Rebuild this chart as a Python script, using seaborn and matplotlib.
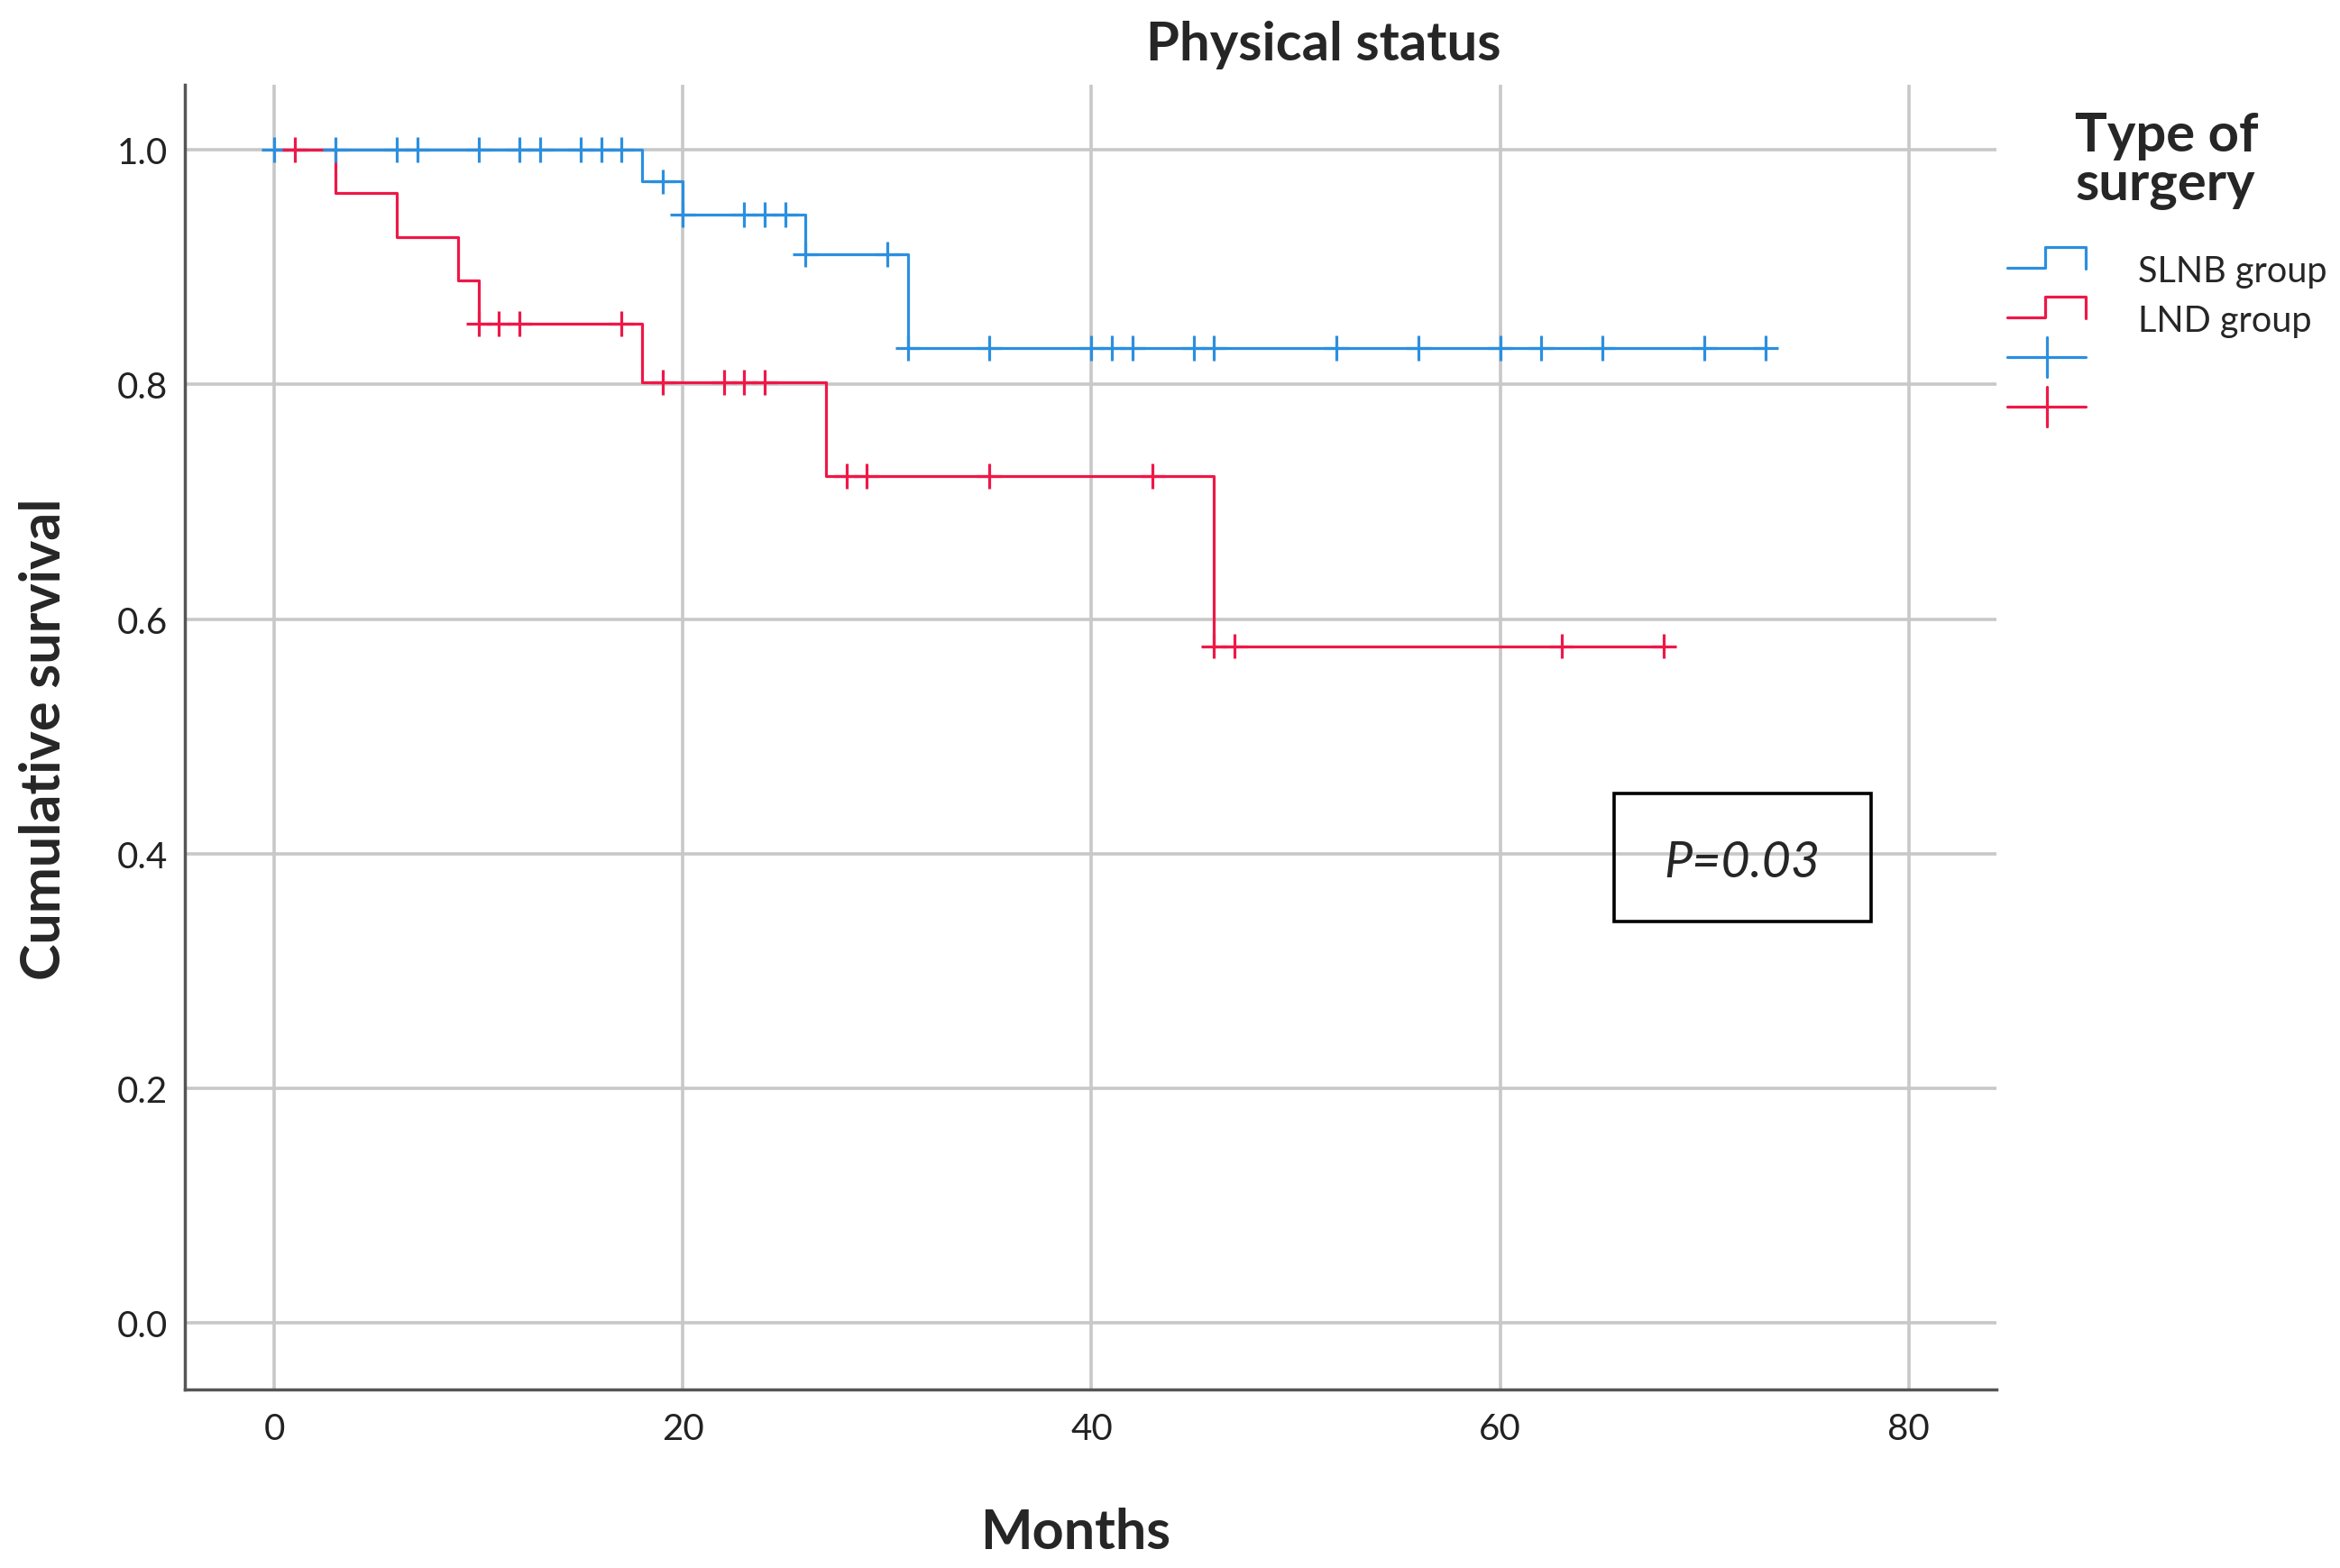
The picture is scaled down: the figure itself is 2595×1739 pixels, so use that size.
import numpy as np
import pandas as pd
import matplotlib
matplotlib.use("Agg")
import matplotlib.pyplot as plt
import seaborn as sns
from matplotlib.lines import Line2D
from matplotlib.patches import Rectangle
from matplotlib.legend_handler import HandlerBase

# groups and colours
groups = ["SLNB group", "LND group"]
colors = ["#2B8FE0", "#EE1848"]

# Kaplan-Meier steps: time of each step and survival after it
# (last entry = end of follow-up)
slnb_times = [0, 18, 20, 26, 31, 73]
slnb_surv = [1.0, 0.973, 0.945, 0.911, 0.831, 0.831]
slnb_censored = [0, 3, 6, 7, 10, 12, 13, 15, 16, 17, 19, 20, 23, 24, 25, 26, 30,
                 31, 35, 40, 41, 42, 45, 46, 52, 56, 60, 62, 65, 70, 73]

lnd_times = [0, 3, 6, 9, 10, 18, 27, 46, 68]
lnd_surv = [1.0, 0.963, 0.926, 0.889, 0.852, 0.802, 0.722, 0.577, 0.577]
lnd_censored = [1, 10, 11, 12, 17, 19, 22, 23, 24, 28, 29, 35, 43, 46, 47, 63, 68]

x_ticks = [0, 20, 40, 60, 80]
y_ticks = [0.0, 0.2, 0.4, 0.6, 0.8, 1.0]
p_text = "P=0.03"


def level_at(times, surv, t):
    # survival level of the step curve at the censoring times
    idx = np.searchsorted(times, t, side="right") - 1
    return np.asarray(surv)[idx]


steps = pd.concat([
    pd.DataFrame({"time": slnb_times, "surv": slnb_surv, "group": groups[0]}),
    pd.DataFrame({"time": lnd_times, "surv": lnd_surv, "group": groups[1]}),
], ignore_index=True)

cens = pd.concat([
    pd.DataFrame({"time": slnb_censored,
                  "surv": level_at(slnb_times, slnb_surv, slnb_censored),
                  "group": groups[0]}),
    pd.DataFrame({"time": lnd_censored,
                  "surv": level_at(lnd_times, lnd_surv, lnd_censored),
                  "group": groups[1]}),
], ignore_index=True)


class SpssHandler(HandlerBase):
    # SPSS style legend keys: a step for the curve, a cross for censored marks
    def __init__(self, kind):
        super().__init__()
        self.kind = kind

    def create_artists(self, legend, orig_handle, xdescent, ydescent,
                       width, height, fontsize, trans):
        lift = 0.45 * height
        if self.kind == "step":
            xs = np.array([0, 0.48, 0.48, 1, 1]) * width - xdescent
            ys = np.array([0.08, 0.08, 0.92, 0.92, 0.05]) * height - ydescent + lift
            return [Line2D(xs, ys, color=orig_handle.get_color(),
                           lw=orig_handle.get_linewidth(), transform=trans)]
        yc = 0.5 * height - ydescent + lift
        hline = Line2D([-xdescent, width - xdescent], [yc, yc],
                       color=orig_handle.get_color(),
                       lw=orig_handle.get_linewidth(), transform=trans)
        xm = 0.5 * width - xdescent
        vline = Line2D([xm, xm], [yc - 0.8 * height, yc + 0.8 * height],
                       color=orig_handle.get_color(),
                       lw=orig_handle.get_linewidth(), transform=trans)
        return [hline, vline]


sns.set_theme(style="white")
plt.rcParams["font.family"] = ["Lato", "DejaVu Sans"]

fig = plt.figure(figsize=(25.95, 17.4), dpi=100)
ax = fig.add_axes([0.079, 0.114, 0.7743, 0.8314])

sns.lineplot(data=steps, x="time", y="surv", hue="group", hue_order=groups,
             palette=colors, drawstyle="steps-post", estimator=None,
             lw=2.3, legend=False, ax=ax, zorder=3)
sns.scatterplot(data=cens, x="time", y="surv", hue="group", hue_order=groups,
                palette=colors, marker="+", s=20 ** 2, linewidth=2.3,
                legend=False, ax=ax, zorder=4)

ax.set_xlim(-4.38, 84.31)
ax.set_ylim(-0.0565, 1.0556)
ax.set_xticks(x_ticks)
ax.set_yticks(y_ticks)
ax.set_xticklabels([str(t) for t in x_ticks])
ax.set_yticklabels([f"{t:.1f}" for t in y_ticks])
ax.tick_params(axis="both", length=0, labelsize=29, colors="#222222")
ax.tick_params(axis="x", pad=18)
ax.tick_params(axis="y", pad=14)
ax.grid(True, color="#c8c8c8", lw=2.6)
ax.set_axisbelow(True)
ax.set_xlabel("")
ax.set_ylabel("")
sns.despine(ax=ax)
for side in ["left", "bottom"]:
    ax.spines[side].set_color("#555555")
    ax.spines[side].set_linewidth(2.5)

# p-value box
ax.add_patch(Rectangle((65.6, 0.342), 12.57, 0.1097, fill=False,
                       edgecolor="black", lw=2.6, zorder=5))
ax.text(71.85, 0.381, p_text, ha="center", va="baseline", fontsize=40,
        style="italic", zorder=6)

fig.text(0.5657, 0.9615, "Physical status", ha="center", va="baseline",
         fontsize=43, fontweight="bold")
fig.text(0.4598, 0.0126, "Months", ha="center", va="baseline",
         fontsize=44, fontweight="bold")
fig.text(0.019, 0.529, "Cumulative survival", ha="center", va="center",
         rotation=90, fontsize=44, fontweight="bold")

step_handles = [Line2D([], [], color=c, lw=2.3) for c in colors]
cross_handles = [Line2D([], [], color=c, lw=2.3) for c in colors]
hmap = {h: SpssHandler("step") for h in step_handles}
hmap.update({h: SpssHandler("cross") for h in cross_handles})
leg = fig.legend(step_handles + cross_handles, groups + ["", ""],
                 handler_map=hmap,
                 loc="upper left", bbox_to_anchor=(0.8578, 0.9288),
                 frameon=False, borderpad=0, borderaxespad=0, fontsize=28.5,
                 title="Type of\nsurgery",
                 title_fontproperties={"weight": "bold", "size": 43},
                 handlelength=2.2, handleheight=0.7, handletextpad=1.46,
                 labelspacing=0.46)
leg.get_title().set_linespacing(1.0)
leg._legend_box.sep = 36

fig.savefig("out.png", dpi=100)
